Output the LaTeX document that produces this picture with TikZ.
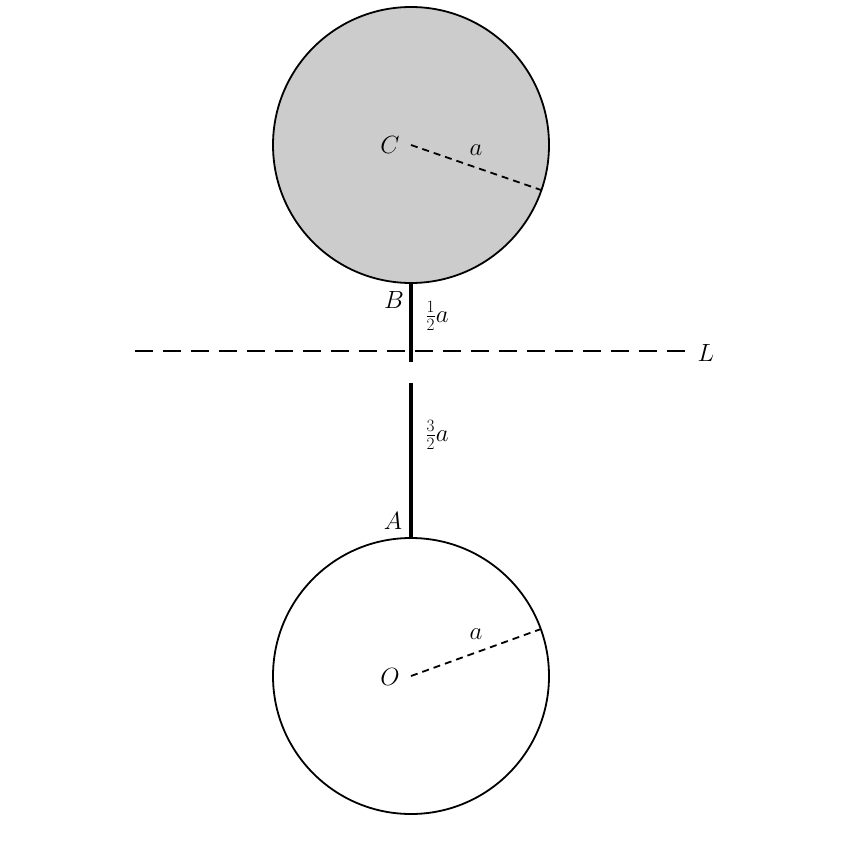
\documentclass[tikz,border=0pt]{standalone}
\begin{document}
\begin{tikzpicture}[x=1pt,y=-1pt,
  lbl/.style={inner sep=0pt,font=\fontsize{24}{28}\selectfont},
  rad/.style={line width=1.8pt,dash pattern=on 7pt off 5pt},
  rod/.style={line width=3.5pt}]
\useasboundingbox (0,0) rectangle (842,842);
\coordinate (C) at (411,145);
\coordinate (O) at (411,676);
\fill[gray!40] (C) circle (138);
\draw[line width=1.8pt] (C) circle (138);
\draw[line width=1.8pt] (O) circle (138);
\coordinate (Ce) at (541,190);
\coordinate (Oe) at (541,629);
\draw[rad] (C) -- (Ce);
\draw[rad] (O) -- (Oe);
\coordinate (B) at (411,283);
\coordinate (B2) at (411,362);
\coordinate (A1) at (411,383);
\coordinate (A) at (411,538);
\draw[rod] (B) -- (B2);
\draw[rod] (A1) -- (A);
\coordinate (L1) at (135,351);
\coordinate (L2) at (688,351);
\draw[line width=1.8pt,dash pattern=on 18pt off 10pt] (L1) -- (L2);
\node[lbl] (lC) at (390,145) {$C$};
\node[lbl] (la1) at (476,150) {$a$};
\node[lbl] (lB) at (394,300) {$B$};
\node[lbl] (lh) at (437,316) {$\frac12 a$};
\node[lbl] (lL) at (706,353) {$L$};
\node[lbl] (lt) at (437,435) {$\frac32 a$};
\node[lbl] (lA) at (393,521) {$A$};
\node[lbl] (la2) at (476,634) {$a$};
\node[lbl] (lO) at (390,677) {$O$};
\end{tikzpicture}
\end{document}
